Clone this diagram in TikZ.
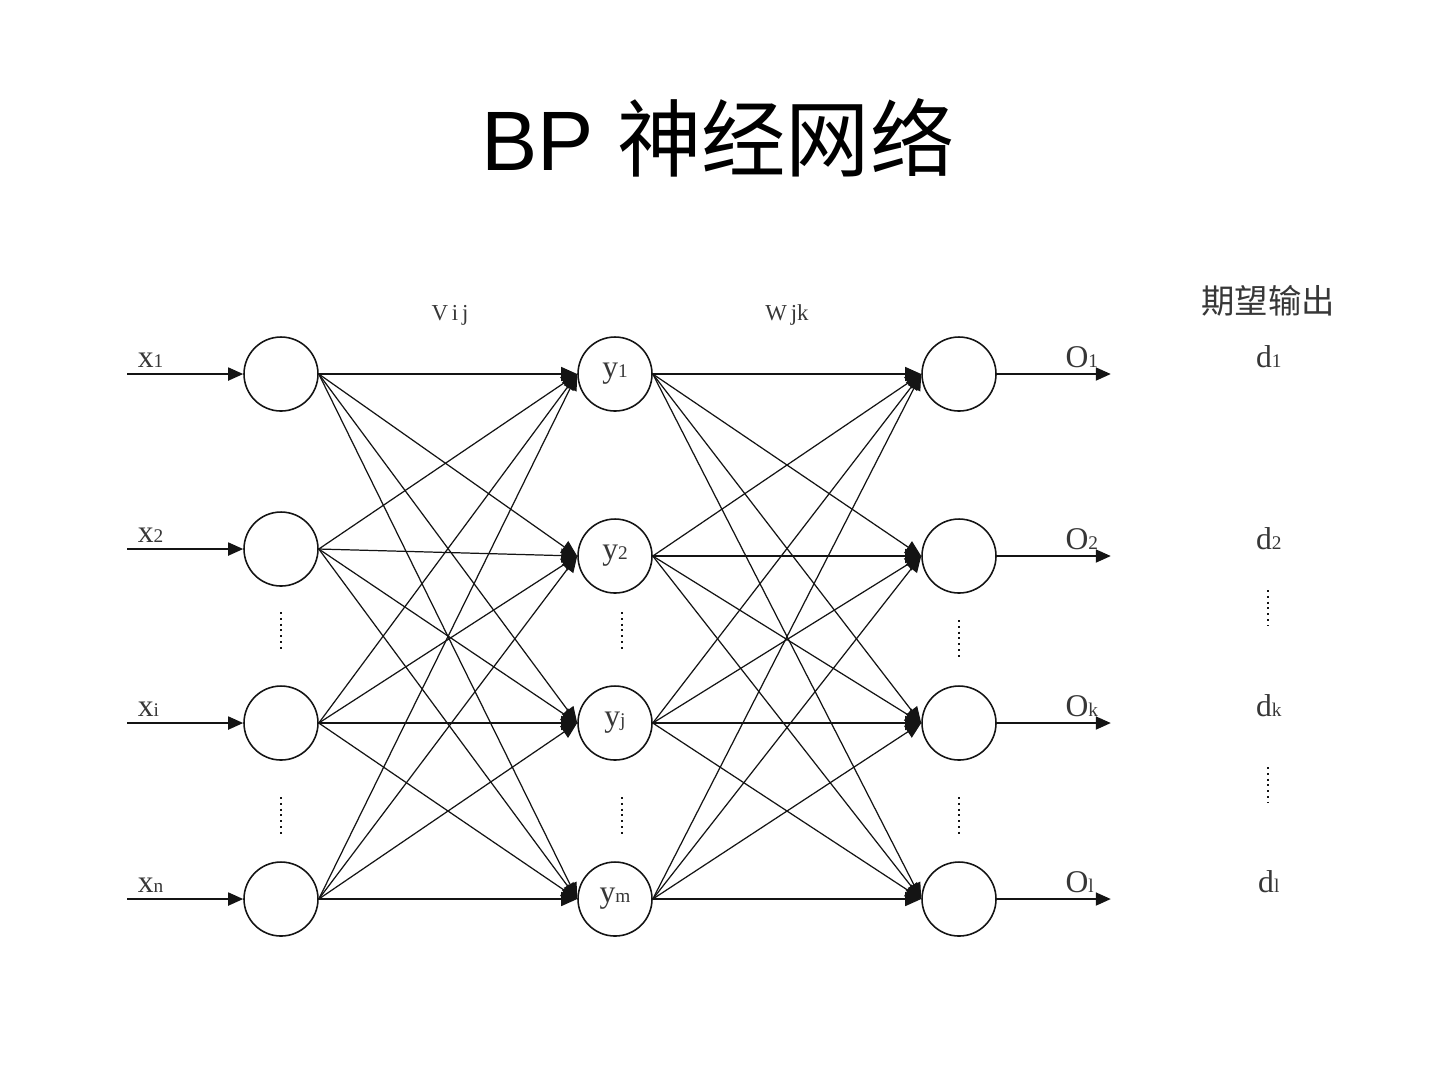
\documentclass[tikz,border=0pt]{standalone}
\usepackage{fontspec}
\setmainfont{Liberation Serif}
\newfontfamily\titlefont{Liberation Sans}
\newfontfamily\cjk{Noto Sans CJK SC}
\usetikzlibrary{arrows.meta, positioning}
\definecolor{NetInk}{RGB}{20, 20, 20}

\tikzset{
  neuron/.style={circle, draw=NetInk, line width=0.45pt, minimum size=7.4mm, inner sep=0pt},
  link/.style={draw=NetInk, line width=0.35pt, -{Triangle[length=1.6mm, width=1.4mm]}},
  feed/.style={draw=NetInk, line width=0.5pt, -{Triangle[length=1.5mm, width=1.3mm]}},
  vdots/.style={draw=NetInk, line width=0.8pt, dash pattern=on 0.2mm off 0.38mm},
  lbl/.style={font=\fontsize{9}{11}\selectfont, text=NetInk!85, inner sep=0pt, anchor=base west},
}
\newcommand{\sbs}[1]{{\fontsize{5.5}{6}\selectfont #1}}

\begin{document}
\begin{tikzpicture}[x=0.1mm, y=-0.1mm]
  \useasboundingbox (0,0) rectangle (1440,1080);

  % title
  \node[anchor=base, inner sep=0pt] (title) at (718,170)
    {\fontsize{24}{28}\selectfont\titlefont BP \cjk 神经网络};

  % layers
  \foreach \n/\y in {1/374, 2/549, 3/723, 4/899}
    \node[neuron] (in\n) at (281,\y) {};
  \foreach \n/\y/\t in {1/374/1, 2/556/2, 3/723/j, 4/899/m}
    \node[neuron, font=\fontsize{9}{11}\selectfont, text=NetInk!85] (hid\n) at (615,\y) {y\sbs{\t}};
  \foreach \n/\y in {1/374, 2/556, 3/723, 4/899}
    \node[neuron] (out\n) at (959,\y) {};

  % weights
  \foreach \i in {1,...,4}
    \foreach \j in {1,...,4}
      \draw[link] (in\i.east) -- (hid\j.west);
  \foreach \j in {1,...,4}
    \foreach \k in {1,...,4}
      \draw[link] (hid\j.east) -- (out\k.west);

  % inputs
  \foreach \n/\t in {1/1, 2/2, 3/i, 4/n} {
    \coordinate (src\n) at ([xshift=-11.6mm]in\n.west);
    \draw[feed] (src\n) -- (in\n.west);
    \node[lbl] (xl\n) at ([xshift=1mm, yshift=0.7mm]src\n) {x\sbs{\t}};
  }

  % outputs
  \foreach \n/\t/\d in {1/1/1, 2/2/2, 3/k/k, 4/l/l} {
    \coordinate (dst\n) at ([xshift=11.4mm]out\n.east);
    \draw[feed] (out\n.east) -- (dst\n);
    \node[lbl] (ol\n) at ([xshift=-4.6mm, yshift=0.7mm]dst\n) {O\sbs{\t}};
    \node[lbl, anchor=base] (dl\n) at ([xshift=15.8mm, yshift=0.7mm]dst\n) {d\sbs{\d}};
  }

  \node[anchor=base, inner sep=0pt, font=\fontsize{9.5}{11}\selectfont\cjk, text=NetInk!85] (want) at (1268,313) {期望输出};
  \node[anchor=base, inner sep=0pt, font=\fontsize{6.5}{8}\selectfont, text=NetInk!85] (vij) at (450,320) {V\,i\,j};
  \node[anchor=base, inner sep=0pt, font=\fontsize{6.5}{8}\selectfont, text=NetInk!85] (wjk) at (787,320) {W\,jk};

  % ellipses
  \foreach \x/\ya/\yb in {281/612/650, 281/797/835, 622/612/650, 622/797/835,
                          959/620/658, 959/797/835, 1268/590/625, 1268/767/802}
    \draw[vdots] (\x,\ya) -- (\x,\yb);
\end{tikzpicture}
\end{document}
